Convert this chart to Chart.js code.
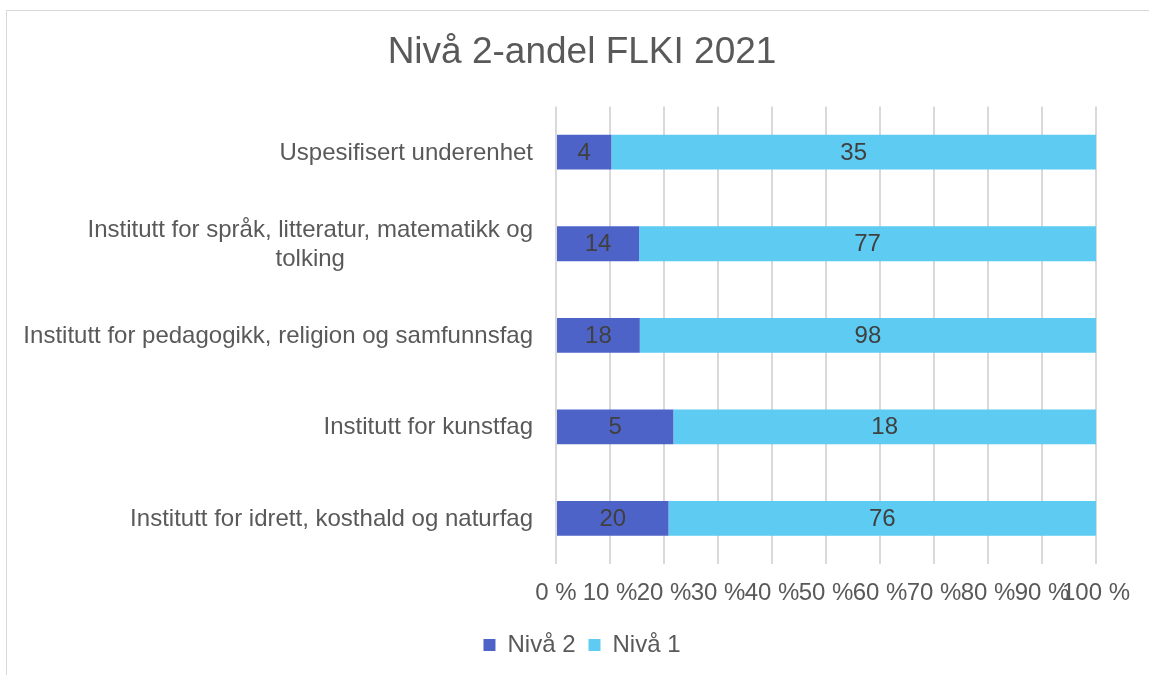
<!DOCTYPE html>
<html><head><meta charset="utf-8">
<script src="https://cdn.jsdelivr.net/npm/chart.js@4"></script>
<style>
html,body{margin:0;padding:0;overflow:hidden;background:#fff;width:1149px;height:675px}
#frame{position:absolute;left:6px;top:10px;width:1200px;height:700px;border:1.5px solid #d9d9d9;box-sizing:border-box}
#wrap{position:absolute;left:0;top:0;width:1149px;height:675px}
</style></head><body>
<div id="frame"></div>
<div id="wrap"><canvas id="c"></canvas></div>
<script>
const categories = [
  "Uspesifisert underenhet",
  ["Institutt for språk, litteratur, matematikk og", "tolking"],
  "Institutt for pedagogikk, religion og samfunnsfag",
  "Institutt for kunstfag",
  "Institutt for idrett, kosthald og naturfag"
];
const seriesNames = ["Nivå 2", "Nivå 1"];
const nivaa2 = [4, 14, 18, 5, 20];
const nivaa1 = [35, 77, 98, 18, 76];
const xTicks = [0, 10, 20, 30, 40, 50, 60, 70, 80, 90, 100];
const title = "Nivå 2-andel FLKI 2021";

const FONT = "'Liberation Sans', Arial, sans-serif";
const FS = 24;
const totals = nivaa2.map((v, i) => v + nivaa1[i]);
const pct2 = nivaa2.map((v, i) => v / totals[i] * 100);
const pct1 = nivaa1.map((v, i) => v / totals[i] * 100);
const raw = [nivaa2, nivaa1];

const labelPlugin = {
  id: 'labels',
  afterDatasetsDraw(chart) {
    const ctx = chart.ctx;
    ctx.save();
    ctx.font = FS + 'px ' + FONT;
    ctx.fillStyle = '#404040';
    ctx.textAlign = 'center';
    ctx.textBaseline = 'middle';
    chart.data.datasets.forEach((ds, di) => {
      const meta = chart.getDatasetMeta(di);
      meta.data.forEach((el, i) => {
        const cx = (el.x + el.base) / 2;
        ctx.fillText(String(raw[di][i]), cx, el.y + 1);
      });
    });
    const ys = chart.scales.y;
    const right = chart.chartArea.left - 23;
    ctx.fillStyle = '#595959';
    const lh = 29;
    categories.forEach((lab, i) => {
      const lines = Array.isArray(lab) ? lab : [lab];
      const w = Math.max(...lines.map(l => ctx.measureText(l).width));
      const cxl = right - w / 2;
      const cy = ys.getPixelForValue(i);
      const y0 = cy - (lines.length - 1) * lh / 2;
      lines.forEach((l, k) => ctx.fillText(l, cxl, y0 + k * lh + 1));
    });
    ctx.restore();
  }
};

new Chart(document.getElementById('c'), {
  type: 'bar',
  data: {
    labels: categories,
    datasets: [
      { label: seriesNames[0], data: pct2, backgroundColor: '#4e63c7', barPercentage: 0.38, categoryPercentage: 1 },
      { label: seriesNames[1], data: pct1, backgroundColor: '#5dcbf2', barPercentage: 0.38, categoryPercentage: 1 }
    ]
  },
  options: {
    indexAxis: 'y',
    responsive: true,
    maintainAspectRatio: false,
    animation: false,
    layout: { padding: { left: 68, right: 53, top: 0, bottom: 8 } },
    plugins: {
      title: { display: true, text: title, color: '#595959', font: { family: FONT, size: 37, weight: 'normal' }, padding: { top: 31, bottom: 31 } },
      legend: { position: 'bottom', labels: { color: '#595959', font: { family: FONT, size: FS }, boxWidth: 12, boxHeight: 12, padding: 13 } },
      tooltip: { enabled: false }
    },
    scales: {
      x: {
        stacked: true, min: 0, max: 100,
        afterBuildTicks(s) { s.ticks = xTicks.map(v => ({ value: v })); },
        afterFit(s) { s.height -= 3; },
        ticks: { autoSkip: false, maxRotation: 0, minRotation: 0, padding: 15, color: '#595959', font: { family: FONT, size: FS }, callback: v => v + ' %' },
        grid: { color: '#d9d9d9', lineWidth: 2, drawTicks: false },
        border: { display: false }
      },
      y: {
        stacked: true,
        afterFit(s) { s.width = 488; },
        ticks: { display: false },
        grid: { display: false, drawTicks: false },
        border: { display: false }
      }
    }
  },
  plugins: [labelPlugin]
});
</script>
</body></html>
